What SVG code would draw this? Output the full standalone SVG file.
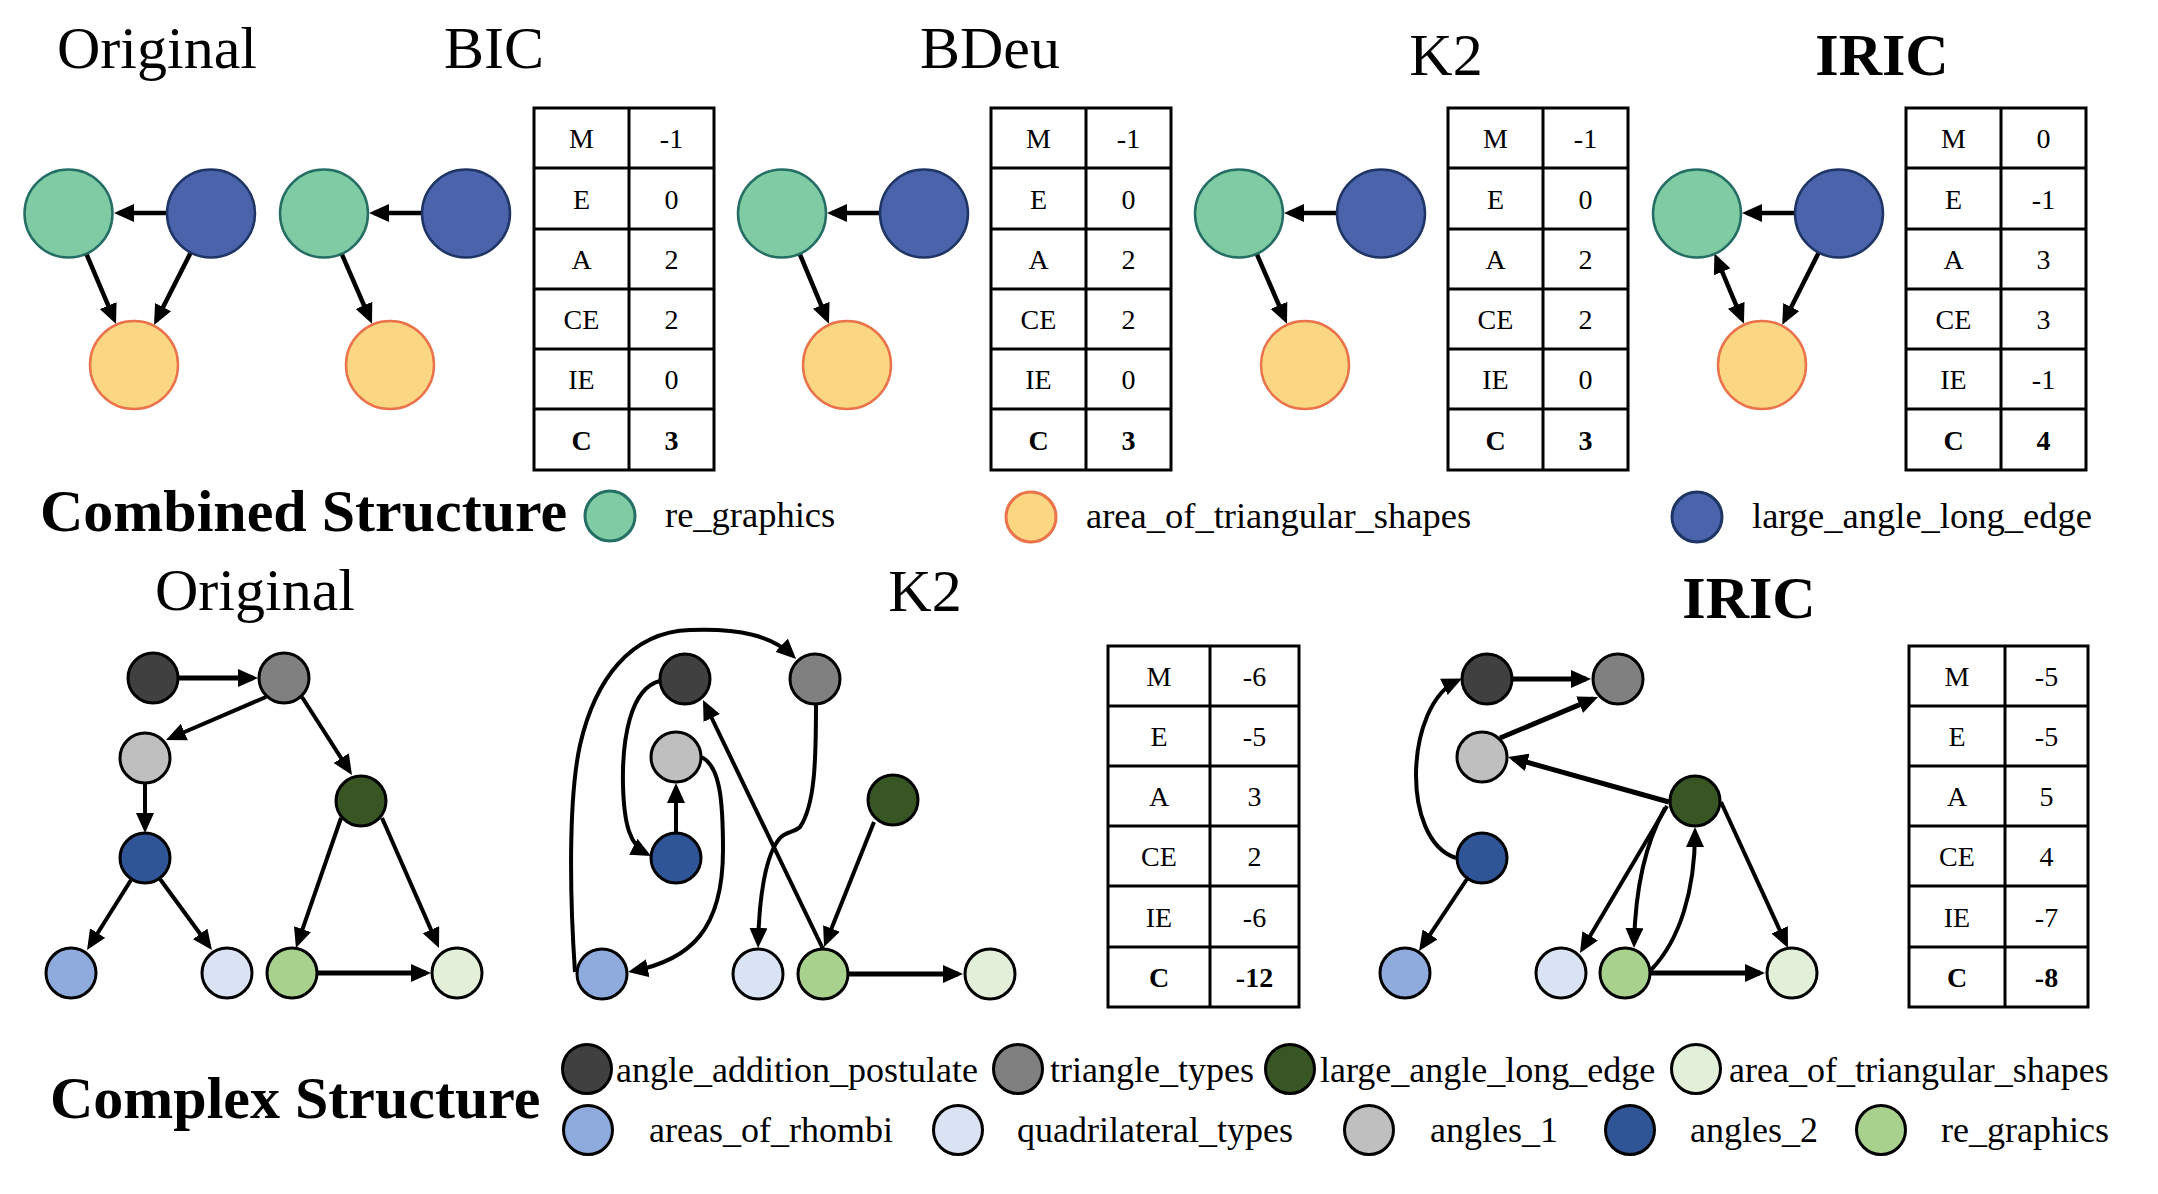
<svg xmlns="http://www.w3.org/2000/svg" width="2158" height="1194" viewBox="0 0 2158 1194">
<style>
text{font-family:"Liberation Serif","Times New Roman",serif;fill:#000}
.title{font-size:60px;text-anchor:middle}
.b{font-weight:bold}
.cell{font-size:28px;text-anchor:middle}
.lg{font-size:36px}
.lg2{font-size:36.5px}
.tbl{fill:none;stroke:#000;stroke-width:3}
.e{fill:none;stroke:#000;stroke-width:4.5;marker-end:url(#ah)}
.e2{fill:none;stroke:#000;stroke-width:4;marker-end:url(#ah)}
.thick{stroke-width:5}
.gr{fill:#7fcba4;stroke:#256e64;stroke-width:2.5}
.bl{fill:#4a63ab;stroke:#1f3566;stroke-width:2.5}
.or{fill:#fcd783;stroke:#eb734b;stroke-width:2.5}
.n{stroke:#000;stroke-width:3}
.c1{fill:#404040}.c2{fill:#808080}.c3{fill:#bfbfbf}.c4{fill:#375623}.c5{fill:#2f5597}
.c6{fill:#8faadc}.c7{fill:#dae3f3}.c8{fill:#a9d18e}.c9{fill:#e2f0d9}
</style>
<defs>
<marker id="ah" viewBox="0 0 20 18" refX="15" refY="9" markerWidth="20" markerHeight="18" markerUnits="userSpaceOnUse" orient="auto-start-reverse">
<path d="M0,0 L20,9 L0,18 z" fill="#000"/>
</marker>
</defs>

<!-- Titles -->
<g id="titles">
<text class="title" x="157" y="68">Original</text>
<text class="title" x="494" y="68">BIC</text>
<text class="title" x="990" y="68">BDeu</text>
<text class="title" x="1446" y="75">K2</text>
<text class="title b" x="1882" y="75">IRIC</text>
<text class="title" x="255" y="610">Original</text>
<text class="title" x="925" y="611">K2</text>
<text class="title b" x="1749" y="618">IRIC</text>
</g>

<!-- Top connectors -->
<g id="top-connectors">
<path class="e" d="M166 213 L119 213"/>
<path class="e" d="M86 253 L114.1 319.4"/>
<path class="e" d="M191 252 L156.3 320.5"/>
<path class="e" d="M422 213 L374 213"/>
<path class="e" d="M341.5 253.4 L370 319.1"/>
<path class="e" d="M880 213 L832 213"/>
<path class="e" d="M799.5 253.4 L827 319.1"/>
<path class="e" d="M1337 213 L1289 213"/>
<path class="e" d="M1256.5 253.4 L1285 319.1"/>
<path class="e" d="M1795 213 L1747 213"/>
<path class="e" d="M1716.4 258 L1742 319.1" marker-start="url(#ah)"/>
<path class="e" d="M1819 252 L1784.5 320.4"/>
</g>

<!-- Top nodes -->
<g id="top-original">
<g id="to-green"><circle class="gr" cx="68.5" cy="213.5" r="44"/></g>
<g id="to-blue"><circle class="bl" cx="211" cy="213.5" r="44"/></g>
<g id="to-orange"><circle class="or" cx="134" cy="365" r="44"/></g>
</g>
<g id="top-bic">
<g id="tb-green"><circle class="gr" cx="324" cy="213.5" r="44"/></g>
<g id="tb-blue"><circle class="bl" cx="466" cy="213.5" r="44"/></g>
<g id="tb-orange"><circle class="or" cx="390" cy="365" r="44"/></g>
</g>
<g id="top-bdeu">
<g id="td-green"><circle class="gr" cx="782" cy="213.5" r="44"/></g>
<g id="td-blue"><circle class="bl" cx="924" cy="213.5" r="44"/></g>
<g id="td-orange"><circle class="or" cx="847" cy="365" r="44"/></g>
</g>
<g id="top-k2">
<g id="tk-green"><circle class="gr" cx="1239" cy="213.5" r="44"/></g>
<g id="tk-blue"><circle class="bl" cx="1381" cy="213.5" r="44"/></g>
<g id="tk-orange"><circle class="or" cx="1305" cy="365" r="44"/></g>
</g>
<g id="top-iric">
<g id="ti-green"><circle class="gr" cx="1697" cy="213.5" r="44"/></g>
<g id="ti-blue"><circle class="bl" cx="1839" cy="213.5" r="44"/></g>
<g id="ti-orange"><circle class="or" cx="1762" cy="365" r="44"/></g>
</g>

<!-- Top tables -->
<g id="table-bic">
<rect class="tbl" x="534" y="108" width="180" height="362"/>
<path class="tbl" d="M629 108V470M534 168H714M534 229H714M534 289H714M534 349H714M534 409H714"/>
<text class="cell" x="581.5" y="148">M</text><text class="cell" x="671.5" y="148">-1</text>
<text class="cell" x="581.5" y="208.5">E</text><text class="cell" x="671.5" y="208.5">0</text>
<text class="cell" x="581.5" y="269">A</text><text class="cell" x="671.5" y="269">2</text>
<text class="cell" x="581.5" y="329">CE</text><text class="cell" x="671.5" y="329">2</text>
<text class="cell" x="581.5" y="389">IE</text><text class="cell" x="671.5" y="389">0</text>
<text class="cell b" x="581.5" y="449.5">C</text><text class="cell b" x="671.5" y="449.5">3</text>
</g>
<g id="table-bdeu">
<rect class="tbl" x="991" y="108" width="180" height="362"/>
<path class="tbl" d="M1086 108V470M991 168H1171M991 229H1171M991 289H1171M991 349H1171M991 409H1171"/>
<text class="cell" x="1038.5" y="148">M</text><text class="cell" x="1128.5" y="148">-1</text>
<text class="cell" x="1038.5" y="208.5">E</text><text class="cell" x="1128.5" y="208.5">0</text>
<text class="cell" x="1038.5" y="269">A</text><text class="cell" x="1128.5" y="269">2</text>
<text class="cell" x="1038.5" y="329">CE</text><text class="cell" x="1128.5" y="329">2</text>
<text class="cell" x="1038.5" y="389">IE</text><text class="cell" x="1128.5" y="389">0</text>
<text class="cell b" x="1038.5" y="449.5">C</text><text class="cell b" x="1128.5" y="449.5">3</text>
</g>
<g id="table-k2">
<rect class="tbl" x="1448" y="108" width="180" height="362"/>
<path class="tbl" d="M1543 108V470M1448 168H1628M1448 229H1628M1448 289H1628M1448 349H1628M1448 409H1628"/>
<text class="cell" x="1495.5" y="148">M</text><text class="cell" x="1585.5" y="148">-1</text>
<text class="cell" x="1495.5" y="208.5">E</text><text class="cell" x="1585.5" y="208.5">0</text>
<text class="cell" x="1495.5" y="269">A</text><text class="cell" x="1585.5" y="269">2</text>
<text class="cell" x="1495.5" y="329">CE</text><text class="cell" x="1585.5" y="329">2</text>
<text class="cell" x="1495.5" y="389">IE</text><text class="cell" x="1585.5" y="389">0</text>
<text class="cell b" x="1495.5" y="449.5">C</text><text class="cell b" x="1585.5" y="449.5">3</text>
</g>
<g id="table-iric">
<rect class="tbl" x="1906" y="108" width="180" height="362"/>
<path class="tbl" d="M2001 108V470M1906 168H2086M1906 229H2086M1906 289H2086M1906 349H2086M1906 409H2086"/>
<text class="cell" x="1953.5" y="148">M</text><text class="cell" x="2043.5" y="148">0</text>
<text class="cell" x="1953.5" y="208.5">E</text><text class="cell" x="2043.5" y="208.5">-1</text>
<text class="cell" x="1953.5" y="269">A</text><text class="cell" x="2043.5" y="269">3</text>
<text class="cell" x="1953.5" y="329">CE</text><text class="cell" x="2043.5" y="329">3</text>
<text class="cell" x="1953.5" y="389">IE</text><text class="cell" x="2043.5" y="389">-1</text>
<text class="cell b" x="1953.5" y="449.5">C</text><text class="cell b" x="2043.5" y="449.5">4</text>
</g>

<!-- Combined legend -->
<g id="legend-combined">
<text class="title b" x="40" y="531" style="text-anchor:start">Combined Structure</text>
<circle class="gr" cx="610" cy="516" r="25" style="stroke-width:3"/>
<text class="lg2" x="665" y="527">re_graphics</text>
<circle class="or" cx="1031" cy="517" r="25" style="stroke-width:3"/>
<text class="lg2" x="1086" y="528">area_of_triangular_shapes</text>
<circle class="bl" cx="1697" cy="517" r="25" style="stroke-width:3"/>
<text class="lg2" x="1752" y="528">large_angle_long_edge</text>
</g>

<!-- Bottom connectors -->
<g id="bottom-connectors">
<!-- Original -->
<path class="e2 thick" d="M179 678 L253 678"/>
<path class="e2" d="M266 697 L170.6 738"/>
<path class="e2" d="M302 697 L349.3 770.8"/>
<path class="e2" d="M145 783 L145 828"/>
<path class="e2" d="M131 880 L89.7 945.8"/>
<path class="e2" d="M160 879 L209 946"/>
<path class="e2" d="M341 818 L297.6 943.3"/>
<path class="e2" d="M382 818 L437 943.4"/>
<path class="e2 thick" d="M318 973 L426 973"/>
<!-- K2 -->
<path class="e2" d="M575 972 C570 900 568 800 580 745 C595 680 630 632 690 630 C740 628 772 636 792.5 655.5"/>
<path class="e2" d="M660 681 C630 688 622 740 623 785 C624 825 630 845 646.6 853.7"/>
<path class="e2" d="M676 833 L676 788"/>
<path class="e2" d="M701 757 C720 765 723 800 723 850 C723 930 690 960 633 971"/>
<path class="e2" d="M823 949 L705.2 704.5"/>
<path class="e2" d="M816 705 C816 760 815 805 800 827 C795 832 785 832 780 838 C765 855 759 900 758.2 943"/>
<path class="e2" d="M874 822 L825.9 942.4"/>
<path class="e2 thick" d="M849 974 L958 974"/>
<!-- IRIC -->
<path class="e2 thick" d="M1513 679 L1586 679"/>
<path class="e2 thick" d="M1500 738 L1593.4 698.9"/>
<path class="e2 thick" d="M1669 802 L1512.8 758.3"/>
<path class="e2" d="M1456 858 C1400 840 1405 705 1457.5 680.5"/>
<path class="e2" d="M1467 879 L1421.8 946.8"/>
<path class="e2" d="M1667 806 L1582.5 948.7"/>
<path class="e2" d="M1665 808 Q1636 860 1634.1 943"/>
<path class="e2" d="M1651 970 C1680 940 1695 890 1695 832"/>
<path class="e2" d="M1721 802 L1785.9 943.5"/>
<path class="e2 thick" d="M1651 973 L1760 973"/>
</g>

<!-- Bottom nodes: Original -->
<g id="bottom-original">
<g id="bo-angle_addition_postulate"><circle class="n c1" cx="153" cy="678" r="25"/></g>
<g id="bo-triangle_types"><circle class="n c2" cx="284" cy="678" r="25"/></g>
<g id="bo-angles_1"><circle class="n c3" cx="145" cy="758" r="25"/></g>
<g id="bo-large_angle_long_edge"><circle class="n c4" cx="361" cy="801" r="25"/></g>
<g id="bo-angles_2"><circle class="n c5" cx="145" cy="858" r="25"/></g>
<g id="bo-areas_of_rhombi"><circle class="n c6" cx="71" cy="973" r="25"/></g>
<g id="bo-quadrilateral_types"><circle class="n c7" cx="227" cy="973" r="25"/></g>
<g id="bo-re_graphics"><circle class="n c8" cx="292" cy="973" r="25"/></g>
<g id="bo-area_of_triangular_shapes"><circle class="n c9" cx="457" cy="973" r="25"/></g>
</g>
<!-- Bottom nodes: K2 -->
<g id="bottom-k2">
<g id="bk-angle_addition_postulate"><circle class="n c1" cx="685" cy="679" r="25"/></g>
<g id="bk-triangle_types"><circle class="n c2" cx="815" cy="679" r="25"/></g>
<g id="bk-angles_1"><circle class="n c3" cx="676" cy="757" r="25"/></g>
<g id="bk-large_angle_long_edge"><circle class="n c4" cx="893" cy="800" r="25"/></g>
<g id="bk-angles_2"><circle class="n c5" cx="676" cy="858" r="25"/></g>
<g id="bk-areas_of_rhombi"><circle class="n c6" cx="602" cy="974" r="25"/></g>
<g id="bk-quadrilateral_types"><circle class="n c7" cx="758" cy="974" r="25"/></g>
<g id="bk-re_graphics"><circle class="n c8" cx="823" cy="974" r="25"/></g>
<g id="bk-area_of_triangular_shapes"><circle class="n c9" cx="990" cy="974" r="25"/></g>
</g>
<!-- Bottom nodes: IRIC -->
<g id="bottom-iric">
<g id="bi-angle_addition_postulate"><circle class="n c1" cx="1487" cy="679" r="25"/></g>
<g id="bi-triangle_types"><circle class="n c2" cx="1618" cy="679" r="25"/></g>
<g id="bi-angles_1"><circle class="n c3" cx="1482" cy="757" r="25"/></g>
<g id="bi-large_angle_long_edge"><circle class="n c4" cx="1695" cy="801" r="25"/></g>
<g id="bi-angles_2"><circle class="n c5" cx="1482" cy="858" r="25"/></g>
<g id="bi-areas_of_rhombi"><circle class="n c6" cx="1405" cy="973" r="25"/></g>
<g id="bi-quadrilateral_types"><circle class="n c7" cx="1561" cy="973" r="25"/></g>
<g id="bi-re_graphics"><circle class="n c8" cx="1625" cy="973" r="25"/></g>
<g id="bi-area_of_triangular_shapes"><circle class="n c9" cx="1792" cy="973" r="25"/></g>
</g>

<!-- Bottom tables -->
<g id="table-k2-bottom">
<rect class="tbl" x="1108" y="646" width="191" height="361"/>
<path class="tbl" d="M1210 646V1007M1108 706H1299M1108 766H1299M1108 826H1299M1108 886H1299M1108 947H1299"/>
<text class="cell" x="1159" y="686">M</text><text class="cell" x="1254.5" y="686">-6</text>
<text class="cell" x="1159" y="746">E</text><text class="cell" x="1254.5" y="746">-5</text>
<text class="cell" x="1159" y="806">A</text><text class="cell" x="1254.5" y="806">3</text>
<text class="cell" x="1159" y="866">CE</text><text class="cell" x="1254.5" y="866">2</text>
<text class="cell" x="1159" y="926.5">IE</text><text class="cell" x="1254.5" y="926.5">-6</text>
<text class="cell b" x="1159" y="987">C</text><text class="cell b" x="1254.5" y="987">-12</text>
</g>
<g id="table-iric-bottom">
<rect class="tbl" x="1909" y="646" width="179" height="361"/>
<path class="tbl" d="M2005 646V1007M1909 706H2088M1909 766H2088M1909 826H2088M1909 886H2088M1909 947H2088"/>
<text class="cell" x="1957" y="686">M</text><text class="cell" x="2046.5" y="686">-5</text>
<text class="cell" x="1957" y="746">E</text><text class="cell" x="2046.5" y="746">-5</text>
<text class="cell" x="1957" y="806">A</text><text class="cell" x="2046.5" y="806">5</text>
<text class="cell" x="1957" y="866">CE</text><text class="cell" x="2046.5" y="866">4</text>
<text class="cell" x="1957" y="926.5">IE</text><text class="cell" x="2046.5" y="926.5">-7</text>
<text class="cell b" x="1957" y="987">C</text><text class="cell b" x="2046.5" y="987">-8</text>
</g>

<!-- Complex legend -->
<g id="legend-complex">
<text class="title b" x="50" y="1118" style="text-anchor:start">Complex Structure</text>
<circle class="n c1" cx="587" cy="1069" r="24.5"/><text class="lg" x="616" y="1082">angle_addition_postulate</text>
<circle class="n c2" cx="1018" cy="1069" r="24.5"/><text class="lg" x="1050" y="1082">triangle_types</text>
<circle class="n c4" cx="1290" cy="1069" r="24.5"/><text class="lg" x="1320" y="1082">large_angle_long_edge</text>
<circle class="n c9" cx="1696" cy="1069" r="24.5"/><text class="lg" x="1729" y="1082">area_of_triangular_shapes</text>
<circle class="n c6" cx="588" cy="1130" r="24.5"/><text class="lg" x="649" y="1142">areas_of_rhombi</text>
<circle class="n c7" cx="958" cy="1130" r="24.5"/><text class="lg" x="1017" y="1142">quadrilateral_types</text>
<circle class="n c3" cx="1369" cy="1130" r="24.5"/><text class="lg" x="1430" y="1142">angles_1</text>
<circle class="n c5" cx="1630" cy="1130" r="24.5"/><text class="lg" x="1690" y="1142">angles_2</text>
<circle class="n c8" cx="1881" cy="1130" r="24.5"/><text class="lg" x="1941" y="1142">re_graphics</text>
</g>
</svg>
